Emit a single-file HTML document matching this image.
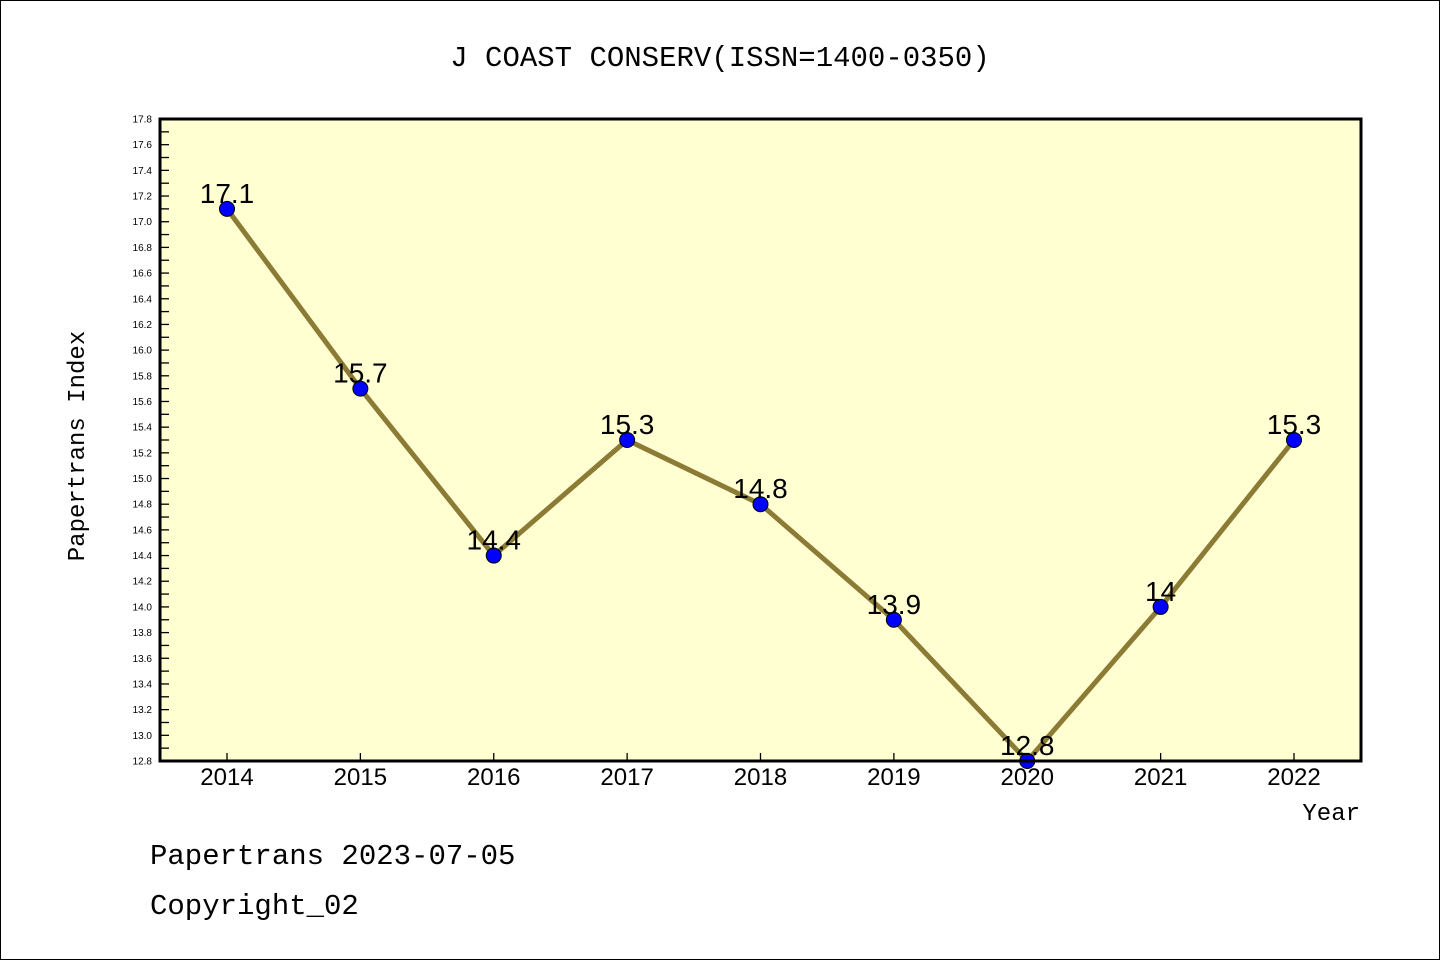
<!DOCTYPE html>
<html><head><meta charset="utf-8"><style>
html,body{margin:0;padding:0;background:#fff}
svg{display:block;font-family:"Liberation Sans","DejaVu Sans",sans-serif}
</style></head><body>
<svg id="chart" width="1440" height="960" xmlns="http://www.w3.org/2000/svg">
<rect x="0.5" y="0.5" width="1439" height="959" fill="#fff" stroke="#000"/>
<text x="720" y="66" font-size="29" text-anchor="middle" font-family="Liberation Mono, monospace">J COAST CONSERV(ISSN=1400-0350)</text>
<rect x="160" y="119" width="1201" height="642" fill="#ffffd2"/>
<g id="yaxis"></g>
<g id="xaxis"></g>
<g id="series"></g>
<rect x="160" y="119" width="1201" height="642" fill="none" stroke="#000" stroke-width="3"/>
<text transform="translate(84,446) rotate(-90)" font-size="24" text-anchor="middle" font-family="Liberation Mono, monospace">Papertrans Index</text>
<text x="1360" y="820" font-size="24" text-anchor="end" font-family="Liberation Mono, monospace">Year</text>
<text x="150" y="864" font-size="29" font-family="Liberation Mono, monospace">Papertrans 2023-07-05</text>
<text x="150" y="914" font-size="29" font-family="Liberation Mono, monospace">Copyright_02</text>
</svg>
<script>
const years=["2014","2015","2016","2017","2018","2019","2020","2021","2022"];
const values=[17.1,15.7,14.4,15.3,14.8,13.9,12.8,14.0,15.3];
const valueLabels=["17.1","15.7","14.4","15.3","14.8","13.9","12.8","14","15.3"];
const yMin=12.8,yMax=17.8;
const NS="http://www.w3.org/2000/svg";
const L=160,R=1361,T=119,B=761;
const x0=227,xStep=133.375;
function xs(i){return x0+i*xStep;}
function ys(v){return B-(v-yMin)/(yMax-yMin)*(B-T);}
function mk(tag,attrs,parent){const e=document.createElementNS(NS,tag);for(const k in attrs)e.setAttribute(k,attrs[k]);parent.appendChild(e);return e;}
const ya=document.getElementById('yaxis'),xa=document.getElementById('xaxis'),sg=document.getElementById('series');
for(let k=0;k<=50;k++){const v=yMin+k*0.1;const y=ys(v);
 const t=mk('line',{x1:L,x2:L+9,y1:y,y2:y,stroke:'#000','stroke-width':1.3},ya);
 
 
 if(k%2===0){const tx=mk('text',{x:152,y:y+3.5,'font-size':10,'text-anchor':'end'},ya);tx.textContent=v.toFixed(1);
 
 }
}
years.forEach((yr,i)=>{const x=xs(i);
 const t=mk('line',{x1:x,x2:x,y1:B,y2:B-8,stroke:'#000','stroke-width':1.3},xa);
 
 
 const tx=mk('text',{x:x,y:785,'font-size':24,'text-anchor':'middle'},xa);tx.textContent=yr;
 
 
});
const pts=values.map((v,i)=>xs(i)+','+ys(v)).join(' ');
const pl=mk('polyline',{points:pts,fill:'none',stroke:'#8c7b35','stroke-width':5},sg);


values.forEach((v,i)=>{
 const c=mk('circle',{cx:xs(i),cy:ys(v),r:7.5,fill:'#0000ff',stroke:'#000','stroke-width':1},sg);
 
 
 const t=mk('text',{x:xs(i),y:ys(v)-6,'font-size':28,'text-anchor':'middle'},sg);t.textContent=valueLabels[i];
 
 
});
</script>
</body></html>
